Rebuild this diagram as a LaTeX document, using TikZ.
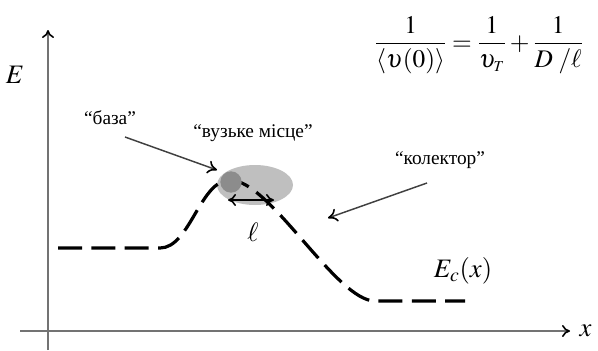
\documentclass[tikz,border=0pt]{standalone}
\usepackage{mathptmx}
\usepackage{fontspec}
\setmainfont{Liberation Serif}
\usepackage{amsmath}
\usetikzlibrary{arrows.meta,shapes.geometric}
\tikzset{
  axis/.style={draw=black!55, line width=1.2pt, -{To[length=6pt,width=9pt,line width=1.2pt,black]}},
  band/.style={line width=2.4pt, dash pattern=on 18pt off 7pt, line cap=butt},
  lblarrow/.style={draw=black!75, line width=1.1pt, -{To[length=7pt,width=10pt,line width=1.2pt,black]}},
  lbl/.style={font=\fontsize{14.5}{17}\selectfont, inner sep=1pt},
  mlbl/.style={font=\fontsize{20}{24}\selectfont, inner sep=1pt},
  zone/.style={ellipse, fill=black!25, minimum width=57pt, minimum height=30pt, inner sep=0pt},
  spot/.style={circle, fill=black!45, minimum size=16pt, inner sep=0pt}
}
\begin{document}
\begin{tikzpicture}[x=0.75pt, y=-0.75pt]
  \useasboundingbox (0,0) rectangle (598,350);
  % axes
  \coordinate (xl) at (20,331);
  \coordinate (xr) at (570,331);
  \coordinate (yb) at (48,350);
  \coordinate (yt) at (48,30);
  \draw[axis] (xl) -- (xr);
  \draw[axis] (yb) -- (yt);
  \node[mlbl] (E) at (15,75) {$E$};
  \node[mlbl, anchor=west] (xlab) at (578,331) {$x$};

  % bottleneck region
  \node[zone] (narrow) at (255,185) {};

  % conduction band edge
  \draw[band] (58,248) -- (160,248)
    .. controls (190,248) and (200,180) .. (230,180)
    .. controls (270,180) and (336,301) .. (375,301) -- (465,301);
  \node[spot] (base) at (231,182) {};
  \coordinate (la) at (228,200);
  \coordinate (lb) at (274,200);
  \draw[line width=1.2pt, {To[length=6pt,width=9pt,line width=1.2pt]}-{To[length=6pt,width=9pt,line width=1.2pt]}] (la) -- (lb);
  \node[mlbl] (ell) at (253,232) {$\ell$};
  \node[mlbl] (Ec) at (463,271) {$E_c(x)$};

  % labels
  \node[lbl] (baza) at (110,118) {“база”};
  \node[lbl] (vuz) at (253,133) {“вузьке місце”};
  \node[lbl] (kol) at (440,160) {“колектор”};
  \coordinate (bz1) at (125,137);
  \coordinate (bz2) at (217,170);
  \coordinate (kl1) at (427,183);
  \coordinate (kl2) at (328,218);
  \draw[lblarrow] (bz1) -- (bz2);
  \draw[lblarrow] (kl1) -- (kl2);

  % formula
  \node[font=\fontsize{19}{23}\selectfont, inner sep=1pt] (formula) at (479,45)
    {$\dfrac{1}{\langle \upsilon(0)\rangle}=\dfrac{1}{\upsilon_{\scriptscriptstyle T}}+\dfrac{1}{D\;/\ell}$};
\end{tikzpicture}
\end{document}
